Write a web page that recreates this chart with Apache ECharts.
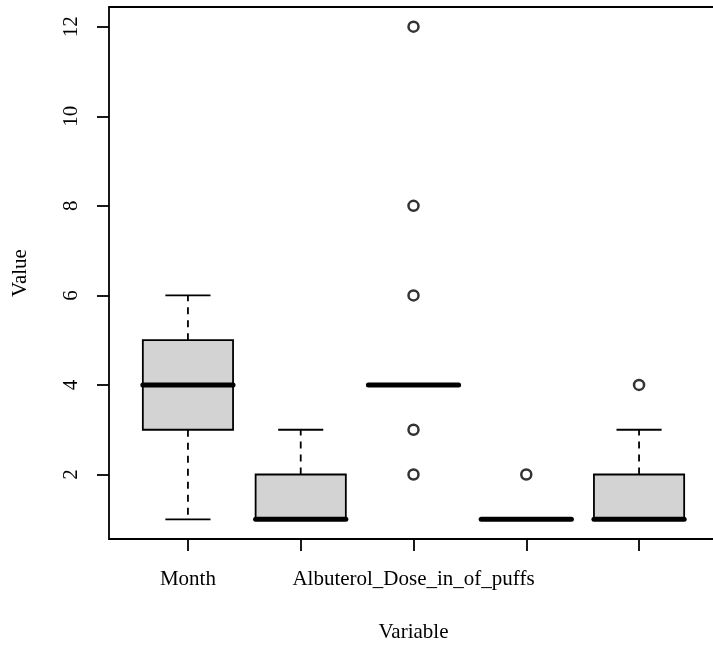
<!DOCTYPE html>
<html>
<head>
<meta charset="utf-8">
<script src="https://cdn.jsdelivr.net/npm/echarts@6/dist/echarts.min.js"></script>
<style>html,body{margin:0;padding:0;background:#fff}#c{width:713px;height:646px}</style>
</head>
<body>
<div id="c"></div>
<script>
// Category labels (R only printed the labels that fit)
var categories = ['Month', '', 'Albuterol_Dose_in_of_puffs', '', ''];
// Box statistics per variable: [lower whisker, Q1, median, Q3, upper whisker]
var boxMin    = [1, 1, 4, 1, 1];
var boxQ1     = [3, 1, 4, 1, 1];
var boxMedian = [4, 1, 4, 1, 1];
var boxQ3     = [5, 2, 4, 1, 2];
var boxMax    = [6, 3, 4, 1, 3];
// Outliers: category index (0-based) and value
var outlierCat = [2, 2, 2, 2, 2, 3, 4];
var outlierVal = [2, 3, 6, 8, 12, 2, 4];
var yTicks = [2, 4, 6, 8, 10, 12];

var boxData = categories.map(function (c, i) {
  return [i + 1, boxMin[i], boxQ1[i], boxMedian[i], boxQ3[i], boxMax[i]];
});
var outData = outlierCat.map(function (c, i) { return [c + 1, outlierVal[i]]; });

var FONT = 'Liberation Serif';
var chart = echarts.init(document.getElementById('c'), null, {renderer: 'canvas'});

function renderBox(params, api) {
  var x = api.value(0);
  var lo = api.coord([x, api.value(1)]);
  var q1 = api.coord([x, api.value(2)]);
  var md = api.coord([x, api.value(3)]);
  var q3 = api.coord([x, api.value(4)]);
  var hi = api.coord([x, api.value(5)]);
  var bw = api.size([0.8, 0])[0];
  var cw = api.size([0.4, 0])[0];
  var cx = lo[0];
  var dash = {stroke: '#000', lineWidth: 1.8, lineDash: [7, 6]};
  var solid = {stroke: '#000', lineWidth: 1.8};
  var children = [];
  if (hi[1] < q3[1]) {
    children.push({type: 'line', shape: {x1: cx, y1: q3[1], x2: cx, y2: hi[1]}, style: dash});
  }
  if (lo[1] > q1[1]) {
    children.push({type: 'line', shape: {x1: cx, y1: q1[1], x2: cx, y2: lo[1]}, style: dash});
  }
  children.push({type: 'line', shape: {x1: cx - cw / 2, y1: hi[1], x2: cx + cw / 2, y2: hi[1]}, style: solid});
  children.push({type: 'line', shape: {x1: cx - cw / 2, y1: lo[1], x2: cx + cw / 2, y2: lo[1]}, style: solid});
  children.push({type: 'rect', shape: {x: cx - bw / 2, y: q3[1], width: bw, height: q1[1] - q3[1]},
    style: {fill: '#D3D3D3', stroke: '#000', lineWidth: 1.8}});
  children.push({type: 'line', shape: {x1: cx - bw / 2, y1: md[1], x2: cx + bw / 2, y2: md[1]},
    style: {stroke: '#000', lineWidth: 5, lineCap: 'round'}});
  return {type: 'group', children: children};
}

chart.setOption({
  animation: false,
  backgroundColor: '#fff',
  grid: {left: 109, top: 7, width: 609, height: 532, show: true, borderColor: '#000', borderWidth: 1.8,
    backgroundColor: 'transparent', outerBoundsMode: 'none', containLabel: false},
  xAxis: {
    type: 'value', min: 0.3, max: 5.7,
    name: 'Variable', nameLocation: 'middle', nameGap: 83,
    nameTextStyle: {fontFamily: FONT, fontSize: 21, color: '#000'},
    axisLine: {show: false},
    splitLine: {show: false},
    axisTick: {show: true, length: 12, lineStyle: {color: '#000', width: 1.8}, customValues: [1, 2, 3, 4, 5]},
    axisLabel: {
      customValues: [1, 2, 3, 4, 5], margin: 30,
      fontFamily: FONT, fontSize: 21, color: '#000',
      formatter: function (v) { return categories[Math.round(v) - 1] || ''; }
    }
  },
  yAxis: {
    type: 'value', min: 0.56, max: 12.44,
    name: 'Value', nameLocation: 'middle', nameGap: 78, nameRotate: 90,
    nameTextStyle: {fontFamily: FONT, fontSize: 21, color: '#000'},
    axisLine: {show: false},
    splitLine: {show: false},
    axisTick: {show: true, length: 12, lineStyle: {color: '#000', width: 1.8}, customValues: yTicks},
    axisLabel: {customValues: yTicks, rotate: 90, margin: 27, fontFamily: FONT, fontSize: 21, color: '#000'}
  },
  series: [
    {type: 'custom', renderItem: renderBox, data: boxData, encode: {x: 0, y: [1, 2, 3, 4, 5]}, clip: false},
    {type: 'scatter', data: outData, symbol: 'circle', symbolSize: 10,
      itemStyle: {color: 'rgba(0,0,0,0)', borderColor: '#000', borderWidth: 2.5}}
  ]
});
</script>
</body>
</html>
